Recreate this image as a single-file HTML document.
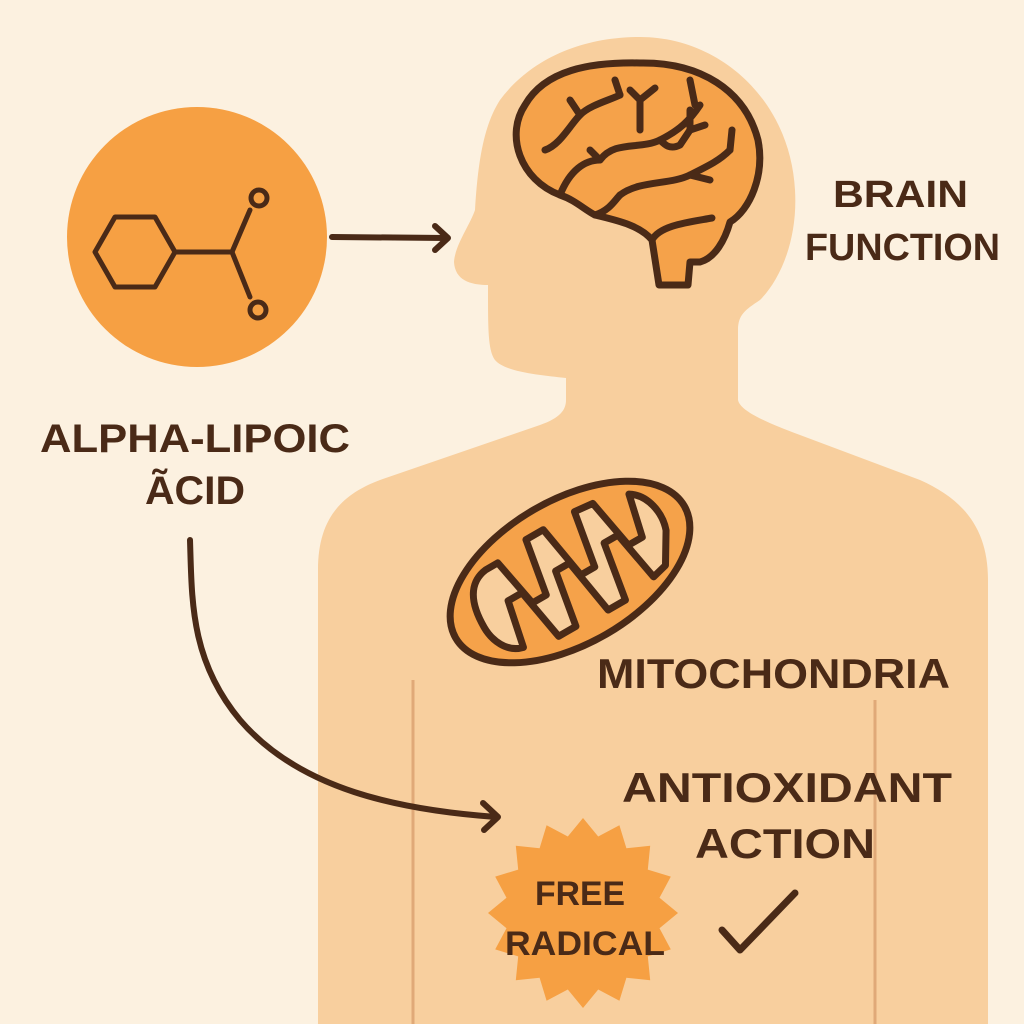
<!DOCTYPE html>
<html><head><meta charset="utf-8"><style>
html,body{margin:0;padding:0;background:#fcf1e0;}
svg{display:block}
text{font-family:"Liberation Sans",sans-serif;fill:#4a2a17;font-weight:bold;}
</style></head><body>
<svg width="1024" height="1024" viewBox="0 0 1024 1024" xmlns="http://www.w3.org/2000/svg">
<rect width="1024" height="1024" fill="#fcf1e0"/>
<!-- body silhouette -->
<path fill="#f8cf9e" d="M640,37 C720,37 790,100 795,190 C798,240 780,280 760,300 C745,310 738,315 738,330 L738,400 C740,410 760,420 800,435 L920,480 C965,500 988,530 988,580 L988,1024 L318,1024 L318,570 C318,520 340,495 380,480 L540,425 C560,418 566,410 566,400 L566,378 C540,375 505,372 495,360 C488,350 488,330 488,285 C470,285 455,280 454,262 C455,245 470,225 475,210 C478,160 484,125 500,100 C530,60 580,37 640,37 Z"/>
<line x1="413" y1="680" x2="413" y2="1024" stroke="#e0a978" stroke-width="3"/>
<line x1="875" y1="700" x2="875" y2="1024" stroke="#e0a978" stroke-width="3"/>
<!-- brain -->
<g stroke="#4a2a17" stroke-width="7" stroke-linecap="round" stroke-linejoin="round" fill="none">
<path fill="#f5a24a" d="M560,195 C520,180 505,135 525,105 C545,70 590,62 640,63 C700,62 745,90 758,140 C765,175 750,210 730,222 C725,240 715,258 700,262 L690,262 L688,285 L659,285 L652,240 C640,225 615,220 595,215 C585,210 575,200 560,195 Z"/>
<path d="M560,195 C570,170 585,160 600,160 C615,140 640,150 660,140 C680,130 690,120 700,105"/>
<path d="M545,150 C560,145 570,125 580,115 C590,105 610,100 620,95"/>
<path d="M580,115 L570,100 M620,95 L615,80 M600,160 L590,150"/>
<path d="M640,130 L640,100 M640,100 L630,90 M640,100 L655,88"/>
<path d="M660,140 C665,145 670,150 680,145 L690,130"/>
<path d="M690,130 L690,110 M690,130 L705,125 M695,105 L690,80"/>
<path d="M620,195 C640,180 670,185 690,175 C710,165 720,160 730,150"/>
<path d="M730,150 L732,130 M690,175 L710,180"/>
<path d="M652,240 C660,225 690,222 712,218"/>
<path d="M595,215 C610,210 615,200 620,195"/>
</g>
<!-- molecule circle -->
<circle cx="197" cy="237" r="130" fill="#f6a043"/>
<g stroke="#4a2a17" stroke-width="5" fill="none" stroke-linejoin="round" stroke-linecap="round">
<polygon points="175,252 155,287 115,287 95,252 115,217 155,217"/>
<line x1="175" y1="252" x2="232" y2="252"/>
<line x1="232" y1="252" x2="250" y2="210"/>
<line x1="232" y1="252" x2="250" y2="297"/>
<circle cx="259" cy="198" r="8"/>
<circle cx="258" cy="310" r="8"/>
</g>
<!-- arrows -->
<g stroke="#4a2a17" stroke-width="6" fill="none" stroke-linecap="round" stroke-linejoin="round">
<line x1="332" y1="237" x2="446" y2="238"/>
<polyline points="435,226 448,238 435,250"/>
<path d="M190,540 C192,600 190,660 240,720 C300,790 400,810 496,817"/>
<polyline points="483,803 498,817 484,830"/>
</g>
<!-- mitochondria -->
<g transform="translate(570,572) rotate(-30)" stroke="#4a2a17" stroke-width="7" stroke-linejoin="round" stroke-linecap="round">
<ellipse cx="0" cy="0" rx="132" ry="72" fill="#f5a24a"/>
<path fill="#f8cf9e" d="M-102,5 C-102,-30 -88,-42 -72,-44 L-58,-44 L-48,8 L-32,8 L-22,-50 L-2,-50 L8,8 L24,8 L34,-50 L54,-48 L64,6 L80,6 L90,-38 C106,-28 110,-5 104,12 L86,42 L70,46 L60,-8 L44,-8 L34,52 L14,52 L4,-8 L-12,-8 L-22,50 L-42,50 L-52,-6 L-68,-6 L-78,42 C-95,38 -102,20 -102,5 Z"/>
</g>
<!-- starburst -->
<polygon fill="#f6a043" points="678,913 659.5,928.2 670.8,949.4 647.8,956.4 650.2,980.2 626.4,977.8 619.4,1000.8 598.2,989.5 583,1008 567.8,989.5 546.6,1000.8 539.6,977.8 515.8,980.2 518.2,956.4 495.2,949.4 506.5,928.2 488,913 506.5,897.8 495.2,876.6 518.2,869.6 515.8,845.8 539.6,848.2 546.6,825.2 567.8,836.5 583,818 598.2,836.5 619.4,825.2 626.4,848.2 650.2,845.8 647.8,869.6 670.8,876.6 659.5,897.8"/>
<polyline points="722,930 740,950 795,893" stroke="#4a2a17" stroke-width="7" fill="none" stroke-linecap="round" stroke-linejoin="round"/>
<!-- text -->
<text x="40" y="452" font-size="40" textLength="310" lengthAdjust="spacingAndGlyphs">ALPHA-LIPOIC</text>
<text x="145" y="504" font-size="40" textLength="100" lengthAdjust="spacingAndGlyphs">ÃCID</text>
<text x="833" y="207" font-size="38" textLength="135" lengthAdjust="spacingAndGlyphs">BRAIN</text>
<text x="805" y="260" font-size="38" textLength="195" lengthAdjust="spacingAndGlyphs">FUNCTION</text>
<text x="597" y="688" font-size="42" textLength="353" lengthAdjust="spacingAndGlyphs">MITOCHONDRIA</text>
<text x="622" y="802" font-size="42" textLength="330" lengthAdjust="spacingAndGlyphs">ANTIOXIDANT</text>
<text x="695" y="858" font-size="42" textLength="180" lengthAdjust="spacingAndGlyphs">ACTION</text>
<text x="535" y="905" font-size="34" textLength="90" lengthAdjust="spacingAndGlyphs">FREE</text>
<text x="505" y="955" font-size="34" textLength="160" lengthAdjust="spacingAndGlyphs">RADICAL</text>
</svg>
</body></html>
